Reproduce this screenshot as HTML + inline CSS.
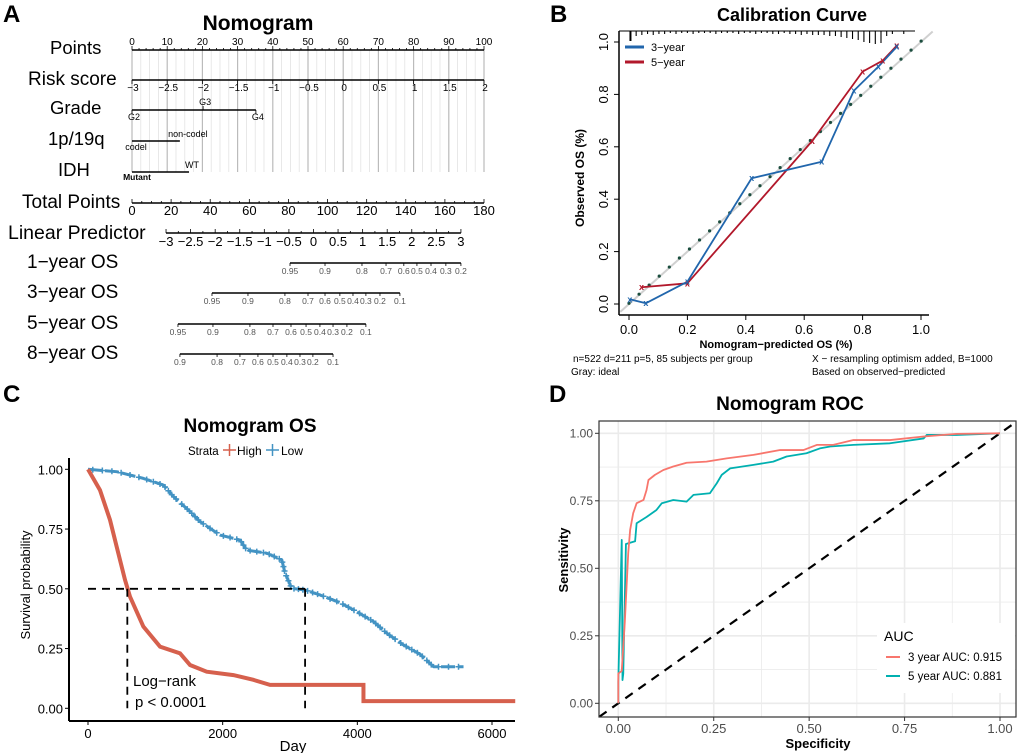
<!DOCTYPE html>
<html><head><meta charset="utf-8"><style>
html,body{margin:0;padding:0;background:#fff;}
svg{display:block;font-family:"Liberation Sans",Arial,sans-serif;}
</style></head><body>
<svg id="fig" width="1020" height="753" viewBox="0 0 1020 753" xmlns="http://www.w3.org/2000/svg">
<text x="3" y="22" font-size="24" font-weight="bold">A</text>
<text x="550" y="22" font-size="24" font-weight="bold">B</text>
<text x="3" y="402" font-size="24" font-weight="bold">C</text>
<text x="549" y="402" font-size="24" font-weight="bold">D</text>
</svg>
<script>
// ---------- data ----------
const pointsTicks=[0,10,20,30,40,50,60,70,80,90,100];
const riskTicks=[-3,-2.5,-2,-1.5,-1,-0.5,0,0.5,1,1.5,2];
const gradeLevels=['G2','G3','G4'];
const gradePoints=[0,20.2,35.2];
const codelLevels=['codel','non-codel'];
const codelPoints=[0,13.6];
const idhLevels=['Mutant','WT'];
const idhPoints=[0,16.2];
const totalTicks=[0,20,40,60,80,100,120,140,160,180];
const lpTicks=[-3,-2.5,-2,-1.5,-1,-0.5,0,0.5,1,1.5,2,2.5,3];
const os1Labels=['0.95','0.9','0.8','0.7','0.6','0.5','0.4','0.3','0.2'];
const os1Total=[80.8,98.7,117.6,129.9,139,145.7,152.9,160.5,168.2];
const os3Labels=['0.95','0.9','0.8','0.7','0.6','0.5','0.4','0.3','0.2','0.1'];
const os3Total=[40.9,59.3,78.2,90,98.7,106.3,113,119.6,126.8,137];
const os5Labels=['0.95','0.9','0.8','0.7','0.6','0.5','0.4','0.3','0.2','0.1'];
const os5Total=[23.5,41.4,60.3,72.1,81.3,89,96.1,102.8,109.9,119.6];
const os8Labels=['0.9','0.8','0.7','0.6','0.5','0.4','0.3','0.2','0.1'];
const os8Total=[24.5,43.5,55.2,64.4,72.1,79.2,85.9,92.5,102.8];
const cal3Pred=[0.003,0.058,0.20,0.42,0.66,0.77,0.854,0.917];
const cal3Obs=[0.018,0.003,0.085,0.48,0.543,0.814,0.906,0.982];
const cal5Pred=[0.043,0.20,0.628,0.80,0.869,0.917];
const cal5Obs=[0.064,0.079,0.623,0.887,0.929,0.986];
const rugHeights=[10,5,4,3,4,3,3,2,3,2,2,3,2,2,2,3,2,2,2,3,2,2,3,2,2,3,3,2,3,3,4,3,4,4,4,5,5,6,7,8,9,11,12,13,12,5,3,0,3];
const highDay=[0,178,327,426,550,624,822,1070,1367,1516,1763,2160,2457,2704,4091,4091,6345];
const highSurv=[1,0.913,0.788,0.676,0.537,0.467,0.342,0.258,0.23,0.181,0.153,0.139,0.119,0.098,0.098,0.03,0.03];
const lowDay=[0,426,822,1119,1268,1516,1664,1961,2259,2358,2655,2878,2927,3026,3224,3447,3744,3992,4240,4438,4685,4933,5131,5577];
const lowSurv=[1,0.99,0.962,0.934,0.886,0.823,0.781,0.725,0.704,0.662,0.649,0.621,0.565,0.502,0.495,0.474,0.442,0.404,0.363,0.314,0.265,0.226,0.174,0.174];
const medianDays=[584,3224];
const kmXTicks=[0,2000,4000,6000];
const kmYTicks=[0,0.25,0.5,0.75,1];
const roc3X=[0,0,0.009,0.017,0.026,0.031,0.039,0.048,0.066,0.074,0.079,0.096,0.118,0.144,0.179,0.231,0.284,0.354,0.424,0.485,0.52,0.563,0.616,0.712,0.8,0.886,1];
const roc3Y=[0,0.11,0.12,0.30,0.556,0.642,0.704,0.741,0.753,0.79,0.827,0.846,0.864,0.877,0.891,0.895,0.907,0.92,0.938,0.938,0.957,0.957,0.975,0.975,0.988,0.998,1];
const roc5X=[0,0,0.009,0.011,0.013,0.02,0.044,0.048,0.074,0.1,0.114,0.144,0.179,0.197,0.24,0.258,0.271,0.293,0.354,0.406,0.441,0.493,0.528,0.555,0.616,0.712,0.8,0.808,0.886,1];
const roc5Y=[0,0.08,0.605,0.086,0.11,0.59,0.6,0.667,0.69,0.716,0.741,0.753,0.747,0.772,0.778,0.815,0.846,0.87,0.883,0.895,0.914,0.926,0.944,0.951,0.957,0.963,0.981,0.994,0.994,1];
const rocTicks=[0,0.25,0.5,0.75,1];
const rocTickLabels=['0.00','0.25','0.50','0.75','1.00'];
const aucLabels=['3 year AUC: 0.915','5 year AUC: 0.881'];

// ---------- helpers ----------
const NS='http://www.w3.org/2000/svg';
const svg=document.getElementById('fig');
function mk(tag,attrs,name,parent){
  const el=document.createElementNS(NS,tag);
  for(const k in attrs) el.setAttribute(k,attrs[k]);
  
  
  (parent||svg).appendChild(el);
  return el;
}
function txt(x,y,s,size,name,extra){
  const a=Object.assign({x:x,y:y,'font-size':size},extra||{});
  const t=mk('text',a,name);
  t.textContent=s;
  return t;
}
function line(x1,y1,x2,y2,stroke,w,name,extra){
  return mk('line',Object.assign({x1:x1,y1:y1,x2:x2,y2:y2,stroke:stroke,'stroke-width':w},extra||{}),name);
}
function polyl(xs,ys,fx,fy,stroke,w,name,extra){
  return mk('polyline',Object.assign({points:xs.map((x,i)=>fx(x)+','+fy(ys[i])).join(' '),fill:'none',stroke:stroke,'stroke-width':w,'stroke-linejoin':'round'},extra||{}),name);
}

// ---------- Panel A ----------
const px=p=>132+p*3.52;
const tx=t=>132+t*(352/180);
txt(258,30,'Nomogram',21,'nomogram-title',{'font-weight':'bold','text-anchor':'middle'});
for(let p=0;p<=100;p+=2.5){
  const major=p%10===0;
  line(px(p),50,px(p),172,major?'#bbb':'#e2e2e2',major?1.2:0.8,'nomogram-guide-line');
}
const rowLab=[['Points',50,54,18.5],['Risk score',28,85,19],['Grade',50,114,18.5],['1p/19q',48,145,18.5],['IDH',58,176,18.5],['Total Points',22,208,19],['Linear Predictor',8,239,19.5],['1\u2212year OS',27,268,19],['3\u2212year OS',27,298,19],['5\u2212year  OS',27,329,19],['8\u2212year OS',27,359,19]];
rowLab.forEach(r=>txt(r[1],r[2],r[0],r[3],'row-label-'+r[0].toLowerCase().replace(/[^a-z0-9]+/g,'-'),{'xml:space':'preserve'}));
line(px(0),50,px(100),50,'#000',1.6,'points-axis');
for(let p=0;p<=100;p+=2){line(px(p),50,px(p),p%10===0?46:48,'#000',0.8,'points-tick');}
pointsTicks.forEach(v=>txt(px(v),45,String(v),10,'points-tick-label',{'text-anchor':'middle'}));
const rx=v=>px((v+3)*20);
line(rx(-3),80,rx(2),80,'#000',1.6,'risk-score-axis');
riskTicks.forEach(v=>{line(rx(v),80,rx(v),84,'#000',0.8,'risk-tick');txt(rx(v)+1,91,String(v).replace('-','\u2212'),10,'risk-tick-label',{'text-anchor':'middle'});});
line(px(gradePoints[0]),110,px(gradePoints[2]),110,'#000',1.6,'grade-axis');
gradePoints.forEach((p,i)=>{line(px(p),110,px(p),i===1?106:114,'#000',0.8,'grade-tick');txt(px(p)+2,i===1?105:120,gradeLevels[i],9,'grade-level-label',{'text-anchor':'middle'});});
line(px(codelPoints[0]),141,px(codelPoints[1]),141,'#000',1.6,'codel-axis');
txt(px(codelPoints[1])+8,137,codelLevels[1],9,'codel-level-label',{'text-anchor':'middle'});
txt(px(codelPoints[0])+4,150,codelLevels[0],9,'codel-level-label',{'text-anchor':'middle'});
line(px(idhPoints[0]),172,px(idhPoints[1]),172,'#000',1.6,'idh-axis');
txt(px(idhPoints[1])+3,168,idhLevels[1],9,'idh-level-label',{'text-anchor':'middle'});
txt(px(idhPoints[0])+5,180,idhLevels[0],8.5,'idh-level-label',{'text-anchor':'middle','font-weight':'bold'});
line(tx(0),203,tx(180),203,'#000',1.6,'total-points-axis');
for(let t=0;t<=180;t+=5){line(tx(t),203,tx(t),t%20===0?199:201,'#000',0.8,'total-tick');}
totalTicks.forEach(v=>txt(tx(v),215,String(v),13,'total-tick-label',{'text-anchor':'middle'}));
const lx=v=>tx(17.4+(v+3)*(150.8/6));
line(lx(-3),233,lx(3),233,'#000',1.6,'linear-predictor-axis');
for(let v=-3;v<=3.001;v+=0.25){line(lx(v),233,lx(v),Math.abs(v*2-Math.round(v*2))<1e-6?229:231,'#000',0.8,'lp-tick');}
lpTicks.forEach(v=>txt(lx(v),246,String(v).replace('-','\u2212'),13,'lp-tick-label',{'text-anchor':'middle'}));
function osScale(labels,tot,y,name){
  line(tx(tot[0]),y,tx(tot[tot.length-1]),y,'#000',1.6,name+'-axis');
  tot.forEach((t,i)=>{line(tx(t),y,tx(t),y+3,'#000',0.8,name+'-tick');txt(tx(t),y+11,labels[i],8.5,name+'-tick-label',{'text-anchor':'middle',fill:'#555'});});
}
osScale(os1Labels,os1Total,263,'os-1-year');
osScale(os3Labels,os3Total,293,'os-3-year');
osScale(os5Labels,os5Total,324,'os-5-year');
osScale(os8Labels,os8Total,354,'os-8-year');

// ---------- Panel B ----------
const bx=v=>629+v*292, by=v=>304-v*262;
txt(792,21,'Calibration Curve',18,'calibration-title',{'font-weight':'bold','text-anchor':'middle'});
line(bx(-0.03),by(-0.03),bx(1.04),by(1.04),'#d0d0d0',2,'ideal-line');
for(let v=0;v<=1.01;v+=0.0345){mk('circle',{cx:bx(v),cy:by(v+0.003),r:1.6,fill:'#1b4d3e'},'apparent-dot');}
line(619,31,619,315,'#000',1.5,'b-y-axis');
line(619,315,929,315,'#000',1.5,'b-x-axis');
[0,0.2,0.4,0.6,0.8,1].forEach(v=>{
  line(bx(v),315,bx(v),320,'#000',1,'b-x-tick');
  txt(bx(v),334,v.toFixed(1),13,'b-x-tick-label',{'text-anchor':'middle'});
  line(619,by(v),614,by(v),'#000',1,'b-y-tick');
  txt(608,by(v),v.toFixed(1),13,'b-y-tick-label',{'text-anchor':'middle',transform:'rotate(-90 608 '+by(v)+')'});
});
rugHeights.forEach((h,i)=>{if(h>0) line(bx(0.005+i*0.0195),31,bx(0.005+i*0.0195),31+h,'#000',1.1,'rug-bar');});
line(bx(0.005),31,bx(0.005),31+rugHeights[0],'#000',2,'rug-bar');
line(619,31,915,31,'#000',1,'rug-baseline');
polyl(cal5Pred,cal5Obs,bx,by,'#b2182b',1.8,'calibration-5-year-line');
polyl(cal3Pred,cal3Obs,bx,by,'#2166ac',1.8,'calibration-3-year-line');
cal5Pred.forEach((p,i)=>txt(bx(p),by(cal5Obs[i])+3,'x',9,'calibration-5-year-point',{'text-anchor':'middle',fill:'#b2182b','font-weight':'bold'}));
cal3Pred.forEach((p,i)=>txt(bx(p),by(cal3Obs[i])+3,'x',9,'calibration-3-year-point',{'text-anchor':'middle',fill:'#2166ac','font-weight':'bold'}));
line(625,47,644,47,'#2166ac',3,'legend-3-year-swatch');
txt(651,51,'3\u2212year',11,'legend-3-year-label');
line(625,62,644,62,'#b2182b',3,'legend-5-year-swatch');
txt(651,66,'5\u2212year',11,'legend-5-year-label');
txt(584,178,'Observed OS (%)',12,'b-y-axis-title',{'text-anchor':'middle','font-weight':'bold',transform:'rotate(-90 584 178)'});
txt(776,348,'Nomogram\u2212predicted OS (%)',11,'b-x-axis-title',{'text-anchor':'middle','font-weight':'bold'});
txt(573,362,'n=522 d=211 p=5, 85 subjects per group',10,'b-footnote-n');
txt(571,375,'Gray: ideal',10,'b-footnote-gray');
txt(812,362,'X \u2212 resampling optimism added, B=1000',10,'b-footnote-resampling');
txt(812,375,'Based on observed\u2212predicted',10,'b-footnote-based');

// ---------- Panel C ----------
const cx=d=>88+d*(404/6000), cy=v=>708.3-v*239;
txt(250,432,'Nomogram  OS',19,'km-title',{'font-weight':'bold','text-anchor':'middle','xml:space':'preserve'});
txt(188,455,'Strata',11.5,'km-legend-title');
line(223,450,236,450,'#d6604d',1.5,'km-legend-high-swatch');line(229.5,444,229.5,456,'#d6604d',1.5,'km-legend-high-swatch');
txt(237,455,'High',12,'km-legend-high-label');
line(266,450,279,450,'#4393c3',1.5,'km-legend-low-swatch');line(272.5,444,272.5,456,'#4393c3',1.5,'km-legend-low-swatch');
txt(281,455,'Low',12,'km-legend-low-label');
polyl(lowDay,lowSurv,cx,cy,'#4393c3',3,'km-low-curve',{'stroke-dasharray':'14,3'});
for(let i=1;i<lowDay.length;i++){
  for(let k=0;k<3;k++){
    const d=lowDay[i-1]+(lowDay[i]-lowDay[i-1])*(k+0.5)/3;
    const s=lowSurv[i-1]+(lowSurv[i]-lowSurv[i-1])*(k+0.5)/3;
    const x=cx(d),y=cy(s);
    mk('path',{d:'M'+(x-3)+','+y+'h6M'+x+','+(y-3)+'v6',stroke:'#4393c3','stroke-width':1.5},'km-low-censor');
  }
}
polyl(highDay,highSurv,cx,cy,'#d6604d',4,'km-high-curve',{'stroke-linejoin':'miter'});
line(cx(0),cy(0.5),cx(medianDays[1]),cy(0.5),'#000',1.8,'km-median-hline',{'stroke-dasharray':'8,6'});
medianDays.forEach(d=>line(cx(d),cy(0.5),cx(d),cy(0),'#000',1.8,'km-median-vline',{'stroke-dasharray':'8,6'}));
line(69,458,69,721,'#000',2,'km-y-axis');
line(69,721,515,721,'#000',2,'km-x-axis');
kmYTicks.forEach(v=>{line(69,cy(v),65,cy(v),'#000',1,'km-y-tick');txt(63,cy(v)+5,v.toFixed(2),13,'km-y-tick-label',{'text-anchor':'end'});});
kmXTicks.forEach(v=>{line(cx(v),721,cx(v),725,'#000',1,'km-x-tick');txt(cx(v),738,String(v),13,'km-x-tick-label',{'text-anchor':'middle'});});
txt(293,751,'Day',15,'km-x-axis-title',{'text-anchor':'middle'});
txt(30,585,'Survival probability',13,'km-y-axis-title',{'text-anchor':'middle',transform:'rotate(-90 30 585)'});
txt(133,686,'Log\u2212rank',15,'logrank-label');
txt(135,707,'p < 0.0001',15,'logrank-pvalue');

// ---------- Panel D ----------
const dx=v=>618.3+v*381.7, dy=v=>703.3-v*270;
txt(790,410,'Nomogram  ROC',19,'roc-title',{'font-weight':'bold','text-anchor':'middle','xml:space':'preserve'});
for(let v=0;v<=1.07;v+=0.125){
  const major=Math.abs(v*4-Math.round(v*4))<1e-6;
  line(dx(v),421,dx(v),717,'#ebebeb',major?1.6:0.8,'roc-grid-x');
  line(599,dy(v),1016,dy(v),'#ebebeb',major?1.6:0.8,'roc-grid-y');
}
mk('clipPath',{id:'rocclip'},'roc-clip');
mk('rect',{x:599,y:421,width:417,height:296},'roc-clip-rect',document.getElementById('rocclip')||svg.lastChild);
line(dx(-0.05),dy(-0.05),dx(1.04),dy(1.04),'#000',2.2,'roc-diagonal',{'stroke-dasharray':'9,7','clip-path':'url(#rocclip)'});
polyl(roc5X,roc5Y,dx,dy,'#00b0b0',1.8,'roc-5-year-curve');
polyl(roc3X,roc3Y,dx,dy,'#f8766d',1.8,'roc-3-year-curve');
mk('rect',{x:599,y:421,width:417,height:296,fill:'none',stroke:'#333','stroke-width':1.2},'roc-panel-border');
rocTicks.forEach((v,i)=>{
  line(599,dy(v),595,dy(v),'#333',1,'roc-y-tick');
  txt(593,dy(v)+4,rocTickLabels[i],12,'roc-y-tick-label',{'text-anchor':'end',fill:'#4d4d4d'});
  line(dx(v),717,dx(v),721,'#333',1,'roc-x-tick');
  txt(dx(v),733,rocTickLabels[i],13,'roc-x-tick-label',{'text-anchor':'middle',fill:'#4d4d4d'});
});
txt(818,748,'Specificity',13,'roc-x-axis-title',{'text-anchor':'middle','font-weight':'bold'});
txt(568,560,'Sensitivity',13,'roc-y-axis-title',{'text-anchor':'middle','font-weight':'bold',transform:'rotate(-90 568 560)'});
mk('rect',{x:877,y:623,width:138,height:70,fill:'#fff'},'roc-legend-box');
txt(884,641,'AUC',14,'roc-legend-title');
line(886,657,900,657,'#f8766d',2,'roc-legend-3-year-swatch');
txt(908,661,aucLabels[0],11.5,'roc-legend-3-year-label');
line(886,676,900,676,'#00b0b0',2,'roc-legend-5-year-swatch');
txt(908,680,aucLabels[1],11.5,'roc-legend-5-year-label');
</script>
</body></html>
